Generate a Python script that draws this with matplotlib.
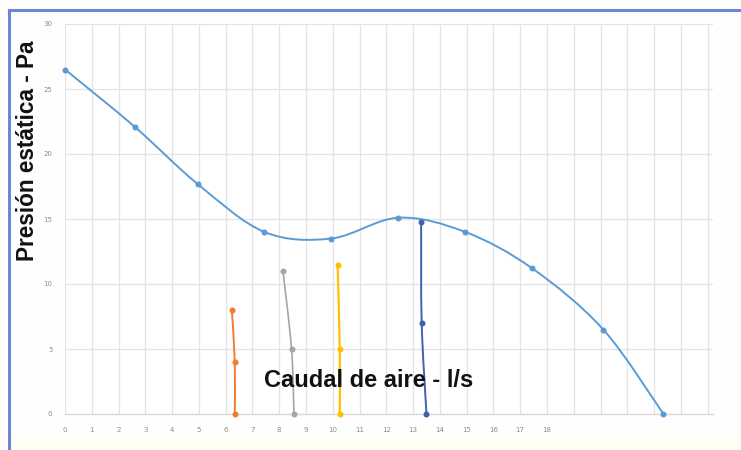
import matplotlib
matplotlib.use("Agg")
import matplotlib.pyplot as plt
from matplotlib.path import Path
from matplotlib.patches import PathPatch, Rectangle
import numpy as np

# Fan curve (static pressure vs air flow)
fan_x = [0, 2.6, 4.95, 7.45, 9.95, 12.45, 14.95, 17.45, 20.1, 22.35]
fan_y = [26.5, 22.1, 17.7, 14.0, 13.5, 15.1, 14.0, 11.2, 6.5, 0]

# System / operating lines
orange_x = [6.23, 6.34, 6.34]
orange_y = [8.0, 4.0, 0]
gray_x = [8.14, 8.46, 8.55]
gray_y = [11.0, 5.0, 0]
yellow_x = [10.18, 10.26, 10.26]
yellow_y = [11.5, 5.0, 0]
dblue_x = [13.3, 13.32, 13.5]
dblue_y = [14.8, 7.0, 0]

x_ticks = list(range(0, 25))
x_ticklabels = [str(i) if i <= 18 else "" for i in x_ticks]
y_ticks = [0, 5, 10, 15, 20, 25, 30]

C_FAN = "#5B9BD5"
C_ORANGE = "#ED7D31"
C_GRAY = "#A5A5A5"
C_YELLOW = "#FFC000"
C_DBLUE = "#3F62B0"


def smooth_path(xs, ys):
    pts = np.column_stack([xs, ys]).astype(float)
    n = len(pts)
    verts = [pts[0]]
    codes = [Path.MOVETO]
    for i in range(n - 1):
        p0 = pts[i - 1] if i > 0 else pts[i]
        p1 = pts[i]
        p2 = pts[i + 1]
        p3 = pts[i + 2] if i + 2 < n else pts[i + 1]
        c1 = p1 + (p2 - p0) / 6.0
        c2 = p2 - (p3 - p1) / 6.0
        verts += [c1, c2, p2]
        codes += [Path.CURVE4] * 3
    return Path(verts, codes)


fig = plt.figure(figsize=(7.41, 4.5), dpi=100)
fig.patch.set_facecolor("#FFFEFE")

# cream band at bottom and blue frame
fig.patches.append(Rectangle((10 / 741, 0), 1, 13 / 450, transform=fig.transFigure,
                             facecolor="#FFFEF3", edgecolor="none", zorder=0))
fig.add_artist(plt.Line2D([9 / 741, 9 / 741], [0, 1 - 10 / 450], transform=fig.transFigure,
                          color="#6E84D6", lw=2.2))
fig.add_artist(plt.Line2D([9 / 741, 1], [1 - 10 / 450, 1 - 10 / 450], transform=fig.transFigure,
                          color="#6E84D6", lw=2.2))

ax = fig.add_axes([65 / 741, 1 - 414 / 450, (713 - 65) / 741, (414 - 24) / 450])
ax.set_facecolor("white")
ax.set_xlim(0, 24.2)
ax.set_ylim(0, 30)
ax.set_xticks(x_ticks)
ax.set_xticklabels(x_ticklabels)
ax.set_yticks(y_ticks)
ax.tick_params(length=0, labelsize=5, labelcolor="#8C8C8C", pad=9)
ax.grid(True, color="#E3E3E3", lw=0.9)
ax.set_axisbelow(True)
for s in ["top", "right", "left"]:
    ax.spines[s].set_visible(False)
ax.spines["bottom"].set_color("#D9D9D9")
ax.spines["bottom"].set_linewidth(1.0)

series = [
    (fan_x, fan_y, C_FAN, 1.4),
    (orange_x, orange_y, C_ORANGE, 1.4),
    (gray_x, gray_y, C_GRAY, 1.2),
    (yellow_x, yellow_y, C_YELLOW, 1.6),
    (dblue_x, dblue_y, C_DBLUE, 1.4),
]
for xs, ys, c, lw in series:
    ax.add_patch(PathPatch(smooth_path(xs, ys), facecolor="none", edgecolor=c, lw=lw,
                           zorder=3, clip_on=False))
    ax.plot(xs, ys, linestyle="none", marker="o", ms=3.3, color=c, zorder=4, clip_on=False)

ax.text(0.469, 0.086, "Caudal de aire - l/s", transform=ax.transAxes, ha="center", va="center",
        fontsize=17, fontweight="bold", family="Liberation Sans", color="#111111", zorder=5)
fig.text(28 / 741, 1 - 151 / 450, "Presión estática - Pa", rotation=90, ha="center", va="center",
         fontsize=16.3, fontweight="bold", family="Liberation Sans", color="#111111")

fig.savefig("out.png", dpi=100)
